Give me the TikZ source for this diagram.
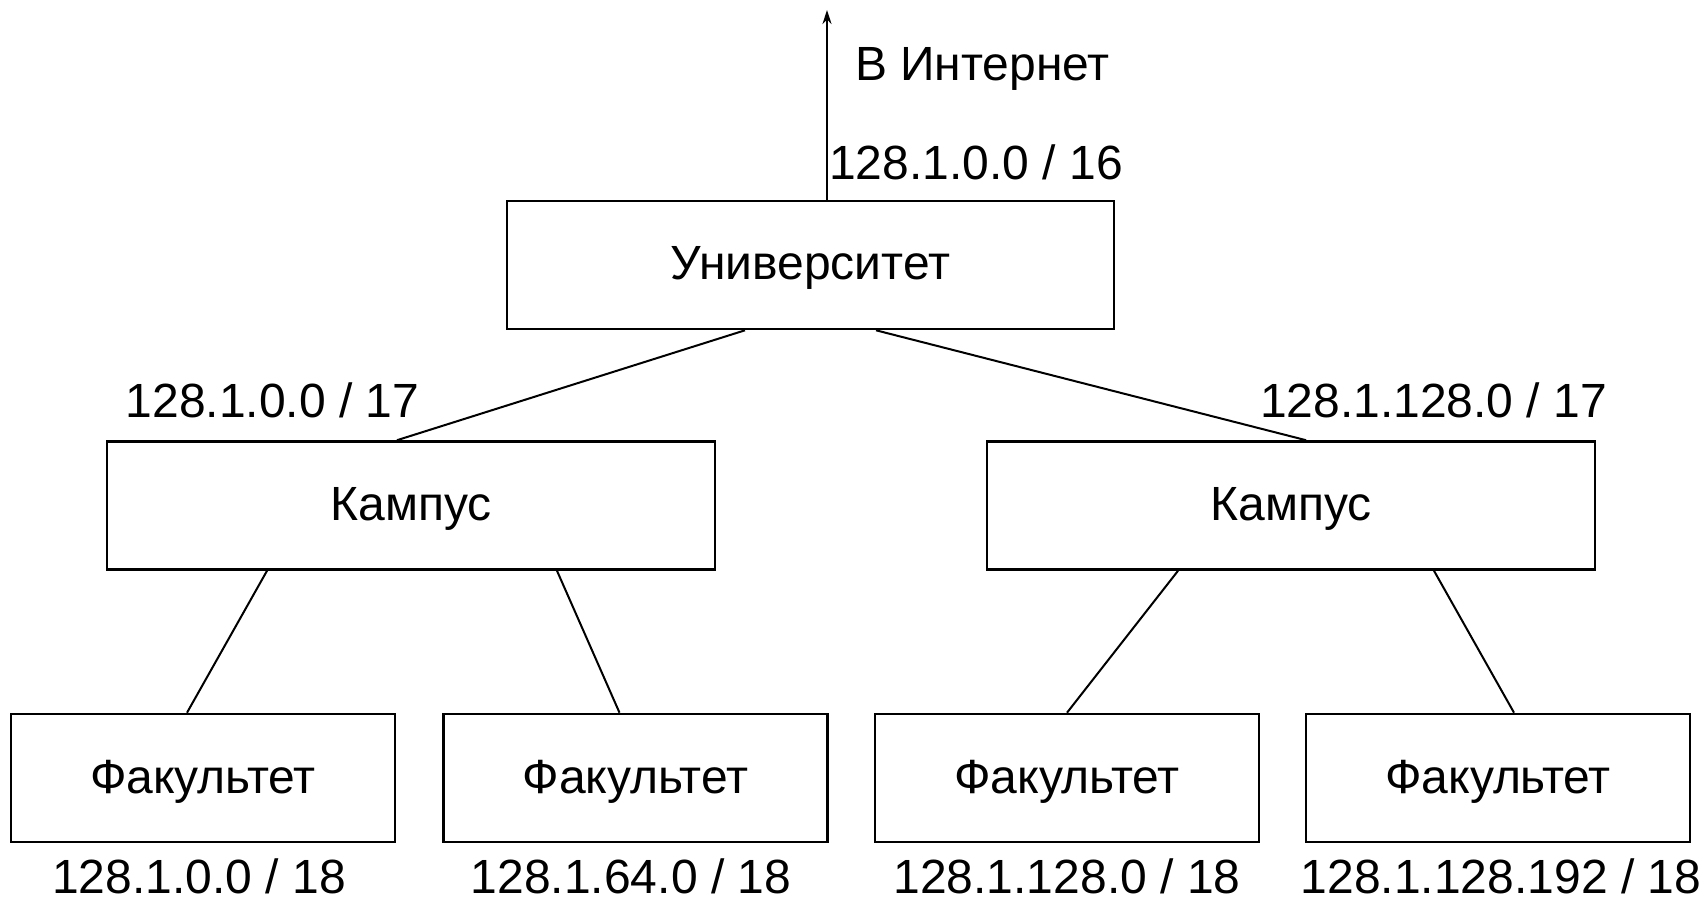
\documentclass[tikz,border=0pt]{standalone}
\usepackage{fontspec}
\setmainfont{Liberation Sans}
\usetikzlibrary{arrows.meta, positioning}

\begin{document}
\begin{tikzpicture}[
    x=0.5pt, y=-0.5pt,
    font=\fontsize{24}{29}\selectfont,
    box/.style={rectangle, draw=black, line width=1.3pt, minimum height=64pt, text height=1.5em, text depth=0pt, inner sep=0pt},
    unibox/.style={box, minimum width=303.5pt},
    campbox/.style={box, minimum width=304pt},
    facbox/.style={box, minimum width=192pt},
    addr/.style={anchor=base},
    link/.style={draw=black, line width=1pt},
    arrow/.style={-{Stealth[length=7pt, width=4.5pt]}, line width=1pt}
]
\useasboundingbox (0,0) rectangle (1706,903);

% University
\node[unibox] (univ) at (810.5,265) {Университет};
\coordinate (net) at (827,10);
\draw[arrow] ([xshift=8.25pt]univ.north) -- (net);
\node[addr] (inet) at (982.5,81) {В Интернет};
\node[addr] (addr16) at (976,180) {128.1.0.0 / 16};

% Campuses
\node[campbox] (campL) at (411,505.5) {Кампус};
\node[campbox] (campR) at (1291,505.5) {Кампус};
\node[addr] (addrL17) at (272.5,417) {128.1.0.0 / 17};
\node[addr] (addrR17) at (1433.5,417) {128.1.128.0 / 17};
\draw[link] ([xshift=-32.75pt]univ.south) -- ([xshift=-7pt]campL.north);
\draw[link] ([xshift=32.75pt]univ.south) -- ([xshift=7.5pt]campR.north);

% Faculties
\node[facbox] (fac1) at (203,778) {Факультет};
\node[facbox] (fac2) at (635.5,778) {Факультет};
\node[facbox] (fac3) at (1067,778) {Факультет};
\node[facbox] (fac4) at (1498,778) {Факультет};
\node[addr] (addr1) at (199,893) {128.1.0.0 / 18};
\node[addr] (addr2) at (631,893) {128.1.64.0 / 18};
\node[addr] (addr3) at (1067,893) {128.1.128.0 / 18};
\node[addr] (addr4) at (1501,893) {128.1.128.192 / 18};
\draw[link] ([xshift=-72pt]campL.south) -- ([xshift=-8pt]fac1.north);
\draw[link] ([xshift=73pt]campL.south) -- ([xshift=-8pt]fac2.north);
\draw[link] ([xshift=-56.5pt]campR.south) -- (fac3.north);
\draw[link] ([xshift=71.5pt]campR.south) -- ([xshift=8pt]fac4.north);

\end{tikzpicture}
\end{document}
